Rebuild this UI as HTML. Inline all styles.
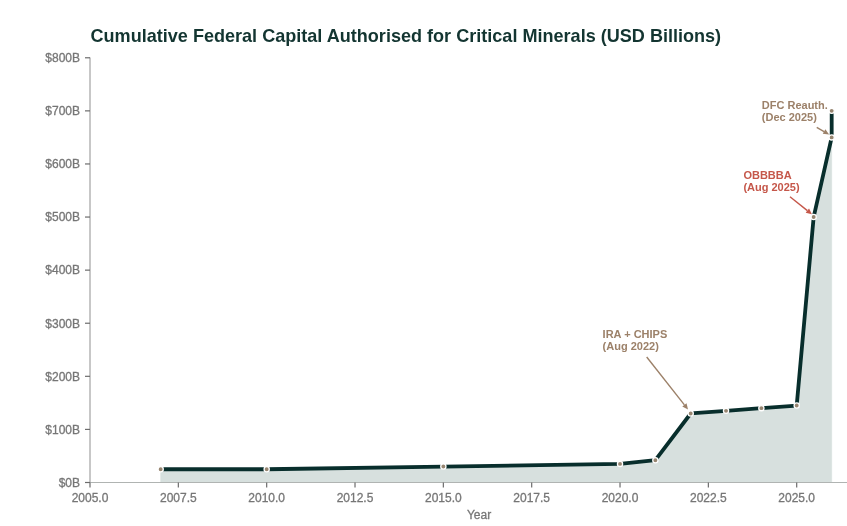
<!DOCTYPE html>
<html><head><meta charset="utf-8"><style>
html,body{margin:0;padding:0;background:#fff;width:847px;height:526px;overflow:hidden}
svg{display:block;will-change:transform;-webkit-font-smoothing:antialiased;font-family:"Liberation Sans", sans-serif}
</style></head><body>
<svg width="847" height="526" viewBox="0 0 847 526"><polygon points="160.67,482.5 160.67,469.23 266.68,469.23 443.35,466.57 620.02,463.92 655.36,460.20 690.70,413.48 726.03,410.83 761.37,408.17 796.70,405.52 813.66,217.05 831.68,137.41 831.68,110.87 831.68,482.5" fill="#d7e0de" stroke="#d7e0de" stroke-width="0.6"/><line x1="90.0" y1="57.5" x2="90.0" y2="482.5" stroke="#a9a9a9" stroke-width="1.3"/><line x1="90.0" y1="482.5" x2="847" y2="482.5" stroke="#b0b4b2" stroke-width="1.2"/><line x1="85.0" y1="482.50" x2="90.0" y2="482.50" stroke="#6c6c6c" stroke-width="1.2"/><text x="80" y="486.80" text-anchor="end" font-size="12" fill="#767676" stroke="#767676" stroke-width="0.3">$0B</text><line x1="85.0" y1="429.41" x2="90.0" y2="429.41" stroke="#6c6c6c" stroke-width="1.2"/><text x="80" y="433.71" text-anchor="end" font-size="12" fill="#767676" stroke="#767676" stroke-width="0.3">$100B</text><line x1="85.0" y1="376.32" x2="90.0" y2="376.32" stroke="#6c6c6c" stroke-width="1.2"/><text x="80" y="380.62" text-anchor="end" font-size="12" fill="#767676" stroke="#767676" stroke-width="0.3">$200B</text><line x1="85.0" y1="323.23" x2="90.0" y2="323.23" stroke="#6c6c6c" stroke-width="1.2"/><text x="80" y="327.53" text-anchor="end" font-size="12" fill="#767676" stroke="#767676" stroke-width="0.3">$300B</text><line x1="85.0" y1="270.14" x2="90.0" y2="270.14" stroke="#6c6c6c" stroke-width="1.2"/><text x="80" y="274.44" text-anchor="end" font-size="12" fill="#767676" stroke="#767676" stroke-width="0.3">$400B</text><line x1="85.0" y1="217.05" x2="90.0" y2="217.05" stroke="#6c6c6c" stroke-width="1.2"/><text x="80" y="221.35" text-anchor="end" font-size="12" fill="#767676" stroke="#767676" stroke-width="0.3">$500B</text><line x1="85.0" y1="163.96" x2="90.0" y2="163.96" stroke="#6c6c6c" stroke-width="1.2"/><text x="80" y="168.26" text-anchor="end" font-size="12" fill="#767676" stroke="#767676" stroke-width="0.3">$600B</text><line x1="85.0" y1="110.87" x2="90.0" y2="110.87" stroke="#6c6c6c" stroke-width="1.2"/><text x="80" y="115.17" text-anchor="end" font-size="12" fill="#767676" stroke="#767676" stroke-width="0.3">$700B</text><line x1="85.0" y1="57.78" x2="90.0" y2="57.78" stroke="#6c6c6c" stroke-width="1.2"/><text x="80" y="62.08" text-anchor="end" font-size="12" fill="#767676" stroke="#767676" stroke-width="0.3">$800B</text><line x1="90.00" y1="482.5" x2="90.00" y2="487.5" stroke="#6c6c6c" stroke-width="1.2"/><text x="90.00" y="501.5" text-anchor="middle" font-size="12" fill="#767676" stroke="#767676" stroke-width="0.3">2005.0</text><line x1="178.34" y1="482.5" x2="178.34" y2="487.5" stroke="#6c6c6c" stroke-width="1.2"/><text x="178.34" y="501.5" text-anchor="middle" font-size="12" fill="#767676" stroke="#767676" stroke-width="0.3">2007.5</text><line x1="266.68" y1="482.5" x2="266.68" y2="487.5" stroke="#6c6c6c" stroke-width="1.2"/><text x="266.68" y="501.5" text-anchor="middle" font-size="12" fill="#767676" stroke="#767676" stroke-width="0.3">2010.0</text><line x1="355.01" y1="482.5" x2="355.01" y2="487.5" stroke="#6c6c6c" stroke-width="1.2"/><text x="355.01" y="501.5" text-anchor="middle" font-size="12" fill="#767676" stroke="#767676" stroke-width="0.3">2012.5</text><line x1="443.35" y1="482.5" x2="443.35" y2="487.5" stroke="#6c6c6c" stroke-width="1.2"/><text x="443.35" y="501.5" text-anchor="middle" font-size="12" fill="#767676" stroke="#767676" stroke-width="0.3">2015.0</text><line x1="531.69" y1="482.5" x2="531.69" y2="487.5" stroke="#6c6c6c" stroke-width="1.2"/><text x="531.69" y="501.5" text-anchor="middle" font-size="12" fill="#767676" stroke="#767676" stroke-width="0.3">2017.5</text><line x1="620.02" y1="482.5" x2="620.02" y2="487.5" stroke="#6c6c6c" stroke-width="1.2"/><text x="620.02" y="501.5" text-anchor="middle" font-size="12" fill="#767676" stroke="#767676" stroke-width="0.3">2020.0</text><line x1="708.36" y1="482.5" x2="708.36" y2="487.5" stroke="#6c6c6c" stroke-width="1.2"/><text x="708.36" y="501.5" text-anchor="middle" font-size="12" fill="#767676" stroke="#767676" stroke-width="0.3">2022.5</text><line x1="796.70" y1="482.5" x2="796.70" y2="487.5" stroke="#6c6c6c" stroke-width="1.2"/><text x="796.70" y="501.5" text-anchor="middle" font-size="12" fill="#767676" stroke="#767676" stroke-width="0.3">2025.0</text><text x="479" y="518.9" text-anchor="middle" font-size="12" fill="#767676" stroke="#767676" stroke-width="0.3">Year</text><path d="M160.67,469.23 L266.68,469.23 L443.35,466.57 L620.02,463.92 L655.36,460.20 L690.70,413.48 L726.03,410.83 L761.37,408.17 L796.70,405.52 L813.66,217.05 L831.68,137.41 L831.68,110.87" fill="none" stroke="#082e2c" stroke-width="3.8" stroke-linejoin="round" stroke-linecap="butt"/><circle cx="160.67" cy="469.23" r="2.6" fill="#978570" stroke="#ffffff" stroke-width="1.3"/><circle cx="266.68" cy="469.23" r="2.6" fill="#978570" stroke="#ffffff" stroke-width="1.3"/><circle cx="443.35" cy="466.57" r="2.6" fill="#978570" stroke="#ffffff" stroke-width="1.3"/><circle cx="620.02" cy="463.92" r="2.6" fill="#978570" stroke="#ffffff" stroke-width="1.3"/><circle cx="655.36" cy="460.20" r="2.6" fill="#978570" stroke="#ffffff" stroke-width="1.3"/><circle cx="690.70" cy="413.48" r="2.6" fill="#978570" stroke="#ffffff" stroke-width="1.3"/><circle cx="726.03" cy="410.83" r="2.6" fill="#978570" stroke="#ffffff" stroke-width="1.3"/><circle cx="761.37" cy="408.17" r="2.6" fill="#978570" stroke="#ffffff" stroke-width="1.3"/><circle cx="796.70" cy="405.52" r="2.6" fill="#978570" stroke="#ffffff" stroke-width="1.3"/><circle cx="813.66" cy="217.05" r="2.6" fill="#978570" stroke="#ffffff" stroke-width="1.3"/><circle cx="831.68" cy="137.41" r="2.6" fill="#978570" stroke="#ffffff" stroke-width="1.3"/><circle cx="831.68" cy="110.87" r="2.6" fill="#978570" stroke="#ffffff" stroke-width="1.3"/><text x="90.5" y="41.5" font-size="18.07" font-weight="bold" fill="#133531">Cumulative Federal Capital Authorised for Critical Minerals (USD Billions)</text><text font-size="11" font-weight="bold" fill="#9c8169"><tspan x="602.6" y="337.9">IRA + CHIPS</tspan><tspan x="602.6" y="350.0">(Aug 2022)</tspan></text><line x1="646.70" y1="357.00" x2="684.41" y2="404.84" stroke="#9c8169" stroke-width="1.4"/><polygon points="688.00,409.40 682.29,406.52 686.53,403.17" fill="#9c8169"/><text font-size="11" font-weight="bold" fill="#c5574a"><tspan x="743.4" y="178.6">OBBBBA</tspan><tspan x="743.4" y="190.6">(Aug 2025)</tspan></text><line x1="790.00" y1="196.70" x2="807.37" y2="210.58" stroke="#c5574a" stroke-width="1.4"/><polygon points="811.90,214.20 805.68,212.69 809.05,208.47" fill="#c5574a"/><text font-size="11" font-weight="bold" fill="#9c8169"><tspan x="761.8" y="109.4">DFC Reauth.</tspan><tspan x="761.8" y="121.4">(Dec 2025)</tspan></text><line x1="816.70" y1="127.30" x2="824.07" y2="131.52" stroke="#9c8169" stroke-width="1.4"/><polygon points="829.10,134.40 822.73,133.86 825.41,129.17" fill="#9c8169"/></svg>
</body></html>
